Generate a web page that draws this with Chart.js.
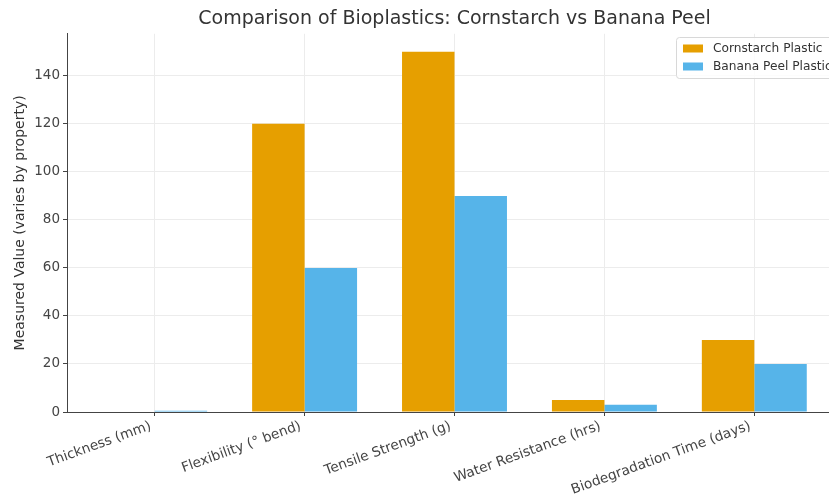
<!DOCTYPE html>
<html>
<head>
<meta charset="utf-8">
<script src="https://cdn.jsdelivr.net/npm/chart.js@4.4.1/dist/chart.umd.min.js"></script>
<style>
  html, body { margin: 0; padding: 0; background: #fff; overflow: hidden; }
  #wrap { width: 850px; height: 495px; }
</style>
</head>
<body>
<div id="wrap"><canvas id="chart" width="850" height="495"></canvas></div>
<script>
const properties = ['Thickness (mm)', 'Flexibility (° bend)', 'Tensile Strength (g)', 'Water Resistance (hrs)', 'Biodegradation Time (days)']
const cornstarch = [0.2, 120, 150, 5, 30]
const bananaPeel = [0.5, 60, 90, 3, 20]
const yTicks = [0, 20, 40, 60, 80, 100, 120, 140]

const FONT = "'DejaVu Sans', sans-serif"
const toPoints = arr => arr.map((v, i) => ({ x: i, y: v }))

// legend drawn inside the plot, top right (matplotlib style)
const boxLegend = {
  id: 'boxLegend',
  afterDraw(c) {
    const ctx = c.ctx
    const items = [
      { text: 'Cornstarch Plastic', color: '#E69F00' },
      { text: 'Banana Peel Plastic', color: '#56B4E9' }
    ]
    const x = 676, y = 37
    ctx.save()
    ctx.fillStyle = 'rgba(255,255,255,0.85)'
    ctx.strokeStyle = '#d8d8d8'
    ctx.lineWidth = 1
    ctx.beginPath()
    ctx.roundRect(x + 0.5, y + 0.5, 180, 41, 3)
    ctx.fill()
    ctx.stroke()
    ctx.font = '12.2px ' + FONT
    ctx.textBaseline = 'middle'
    items.forEach((it, i) => {
      const cy = y + 11.5 + i * 18
      ctx.fillStyle = it.color
      ctx.fillRect(x + 7, cy - 4, 20, 8)
      ctx.fillStyle = '#333'
      ctx.fillText(it.text, x + 37, cy)
    })
    ctx.restore()
  }
}

const chart = document.querySelector('#chart').getContext('2d')

new Chart(chart, {
  type: 'bar',
  data: {
    datasets: [
      { label: 'Cornstarch Plastic', data: toPoints(cornstarch), backgroundColor: '#E69F00' },
      { label: 'Banana Peel Plastic', data: toPoints(bananaPeel), backgroundColor: '#56B4E9' }
    ]
  },
  options: {
    responsive: false,
    animation: false,
    categoryPercentage: 0.7,
    barPercentage: 1,
    layout: { padding: { left: 0, right: 8, top: 0, bottom: 0 } },
    plugins: {
      legend: { display: false },
      tooltip: { enabled: false },
      title: {
        display: true,
        fullSize: false,
        text: 'Comparison of Bioplastics: Cornstarch vs Banana Peel',
        color: '#333',
        font: { family: FONT, size: 19, weight: 'normal' },
        padding: { top: 8, bottom: 3 }
      }
    },
    scales: {
      x: {
        type: 'linear',
        offset: false,
        min: -0.585,
        max: 4.585,
        afterBuildTicks: s => { s.ticks = properties.map((_, i) => ({ value: i })) },
        afterFit: s => { s.height = 83 },
        ticks: {
          callback: v => properties[v],
          minRotation: 20,
          maxRotation: 20,
          labelOffset: -4,
          color: '#444',
          font: { family: FONT, size: 13.7 },
          padding: 2
        },
        grid: { offset: false, color: '#ececec', tickColor: '#444', tickLength: 4 },
        border: { display: true, color: '#444', width: 1 }
      },
      y: {
        min: 0,
        max: 157.5,
        afterBuildTicks: s => { s.ticks = yTicks.map(v => ({ value: v })) },
        afterFit: s => { s.width = 67 },
        ticks: {
          color: '#444',
          font: { family: FONT, size: 13.5 },
          padding: 3
        },
        grid: { color: '#ececec', tickColor: '#444', tickLength: 4 },
        border: { display: true, color: '#444', width: 1 },
        title: {
          display: true,
          text: 'Measured Value (varies by property)',
          color: '#333',
          font: { family: FONT, size: 14 },
          padding: { top: 12, bottom: 4 }
        }
      }
    }
  },
  plugins: [boxLegend]
})
</script>
</body>
</html>
